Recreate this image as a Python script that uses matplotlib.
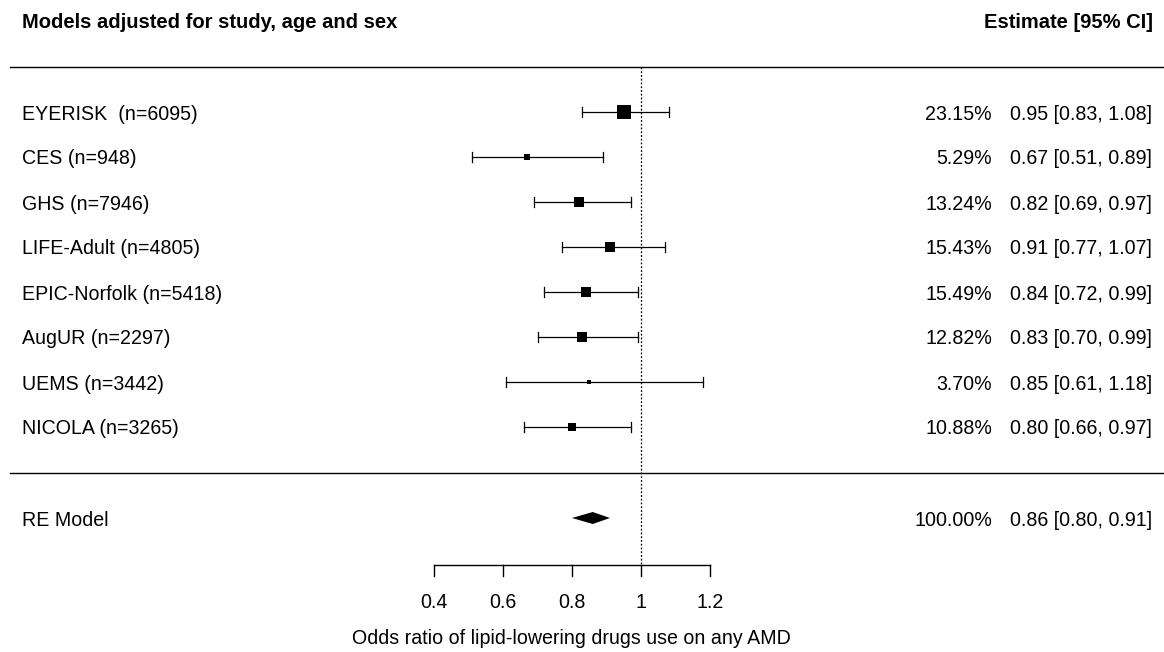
import numpy as np
import matplotlib
matplotlib.use("Agg")
import matplotlib.pyplot as plt

plt.rcParams["font.family"] = ["Liberation Sans", "DejaVu Sans"]

# ── data ───────────────────────────────────────────────────────────────────
studies = ["EYERISK  (n=6095)", "CES (n=948)", "GHS (n=7946)", "LIFE-Adult (n=4805)",
           "EPIC-Norfolk (n=5418)", "AugUR (n=2297)", "UEMS (n=3442)", "NICOLA (n=3265)"]
weights = [23.15, 5.29, 13.24, 15.43, 15.49, 12.82, 3.70, 10.88]
est = [0.95, 0.67, 0.82, 0.91, 0.84, 0.83, 0.85, 0.80]
lo = [0.83, 0.51, 0.69, 0.77, 0.72, 0.70, 0.61, 0.66]
hi = [1.08, 0.89, 0.97, 1.07, 0.99, 0.99, 1.18, 0.97]

re_label = "RE Model"
re_est, re_lo, re_hi = 0.86, 0.80, 0.91

xticks = [0.4, 0.6, 0.8, 1.0, 1.2]
xticklabels = ["0.4", "0.6", "0.8", "1", "1.2"]
xlabel = "Odds ratio of lipid-lowering drugs use on any AMD"

# ── layout (pixel geometry of the original) ───────────────────────────────
W, H = 1164, 652
PPU = 345.0              # pixels per OR unit
X0 = 0.4 - 434 / PPU     # OR value at left edge


def px(xp):
    return X0 + xp / PPU


row_y = 112 + 45 * np.arange(len(studies))
re_y = 518
FS = 14.1
VA = "center_baseline"

fig = plt.figure(figsize=(W / 100, H / 100), dpi=100)
ax = fig.add_axes([0, 0, 1, 1])
ax.set_xlim(X0, px(W))
ax.set_ylim(H, 0)
ax.axis("off")

# headers and separators
ax.text(px(22), 21, "Models adjusted for study, age and sex", fontsize=14.5,
        fontweight="bold", ha="left", va=VA)
ax.text(px(1153), 21, "Estimate [95% CI]", fontsize=14.5,
        fontweight="bold", ha="right", va=VA)
ax.plot([px(10), px(W)], [67, 67], color="black", lw=1.0)
ax.plot([px(10), px(W)], [473, 473], color="black", lw=1.0)

# reference line at OR = 1
ax.plot([1.0, 1.0], [67, 565], color="black", lw=0.9, linestyle=(0, (1.5, 1.5)))

# study rows
wmin, wmax = min(weights), max(weights)
for i, y in enumerate(row_y):
    ax.plot([lo[i], hi[i]], [y, y], color="black", lw=0.9)
    for xe in (lo[i], hi[i]):
        ax.plot([xe, xe], [y - 5, y + 5], color="black", lw=0.9)
    psize = 0.5 + (weights[i] - wmin) / (wmax - wmin)
    side = 14 * psize / 1.5
    ax.plot(est[i], y, marker="s", color="black", markersize=side * 0.72,
            markeredgewidth=0, zorder=3)
    ax.text(px(22), y, studies[i], fontsize=FS, ha="left", va=VA)
    ax.text(px(992), y, f"{weights[i]:.2f}%", fontsize=FS, ha="right", va=VA)
    ax.text(px(1152), y, f"{est[i]:.2f} [{lo[i]:.2f}, {hi[i]:.2f}]",
            fontsize=FS, ha="right", va=VA)

# summary diamond
ax.fill([re_lo, re_est, re_hi, re_est], [re_y, re_y - 6, re_y, re_y + 6],
        color="black", lw=0, zorder=3)
ax.text(px(22), re_y, re_label, fontsize=FS, ha="left", va=VA)
ax.text(px(992), re_y, "100.00%", fontsize=FS, ha="right", va=VA)
ax.text(px(1152), re_y, f"{re_est:.2f} [{re_lo:.2f}, {re_hi:.2f}]",
        fontsize=FS, ha="right", va=VA)

# x axis
ax.plot([xticks[0], xticks[-1]], [565, 565], color="black", lw=1.0)
for t, lab in zip(xticks, xticklabels):
    ax.plot([t, t], [565, 576], color="black", lw=1.0)
    ax.text(t, 601, lab, fontsize=FS, ha="center", va=VA)
ax.text(px(571), 636, xlabel, fontsize=FS, ha="center", va=VA)

fig.savefig("out.png", dpi=100)
